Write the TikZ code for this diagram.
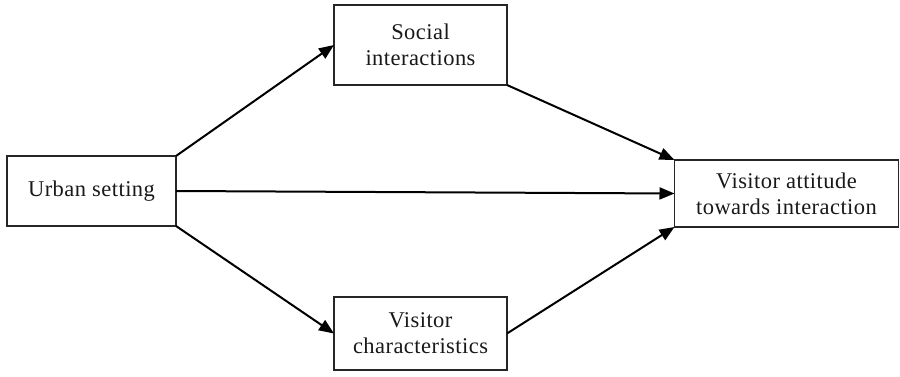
\documentclass[tikz,border=0pt]{standalone}
\usepackage{fontspec}
\setmainfont{Liberation Serif}[LetterSpace=2]
\usetikzlibrary{arrows.meta}
\begin{document}
\begin{tikzpicture}[x=1pt,y=-1pt,
  box/.style={draw=black!85,line width=1.2pt,rectangle,inner sep=0pt,outer sep=0pt,
    align=center,font=\fontsize{22.5}{26}\selectfont,text=black!90},
  conn/.style={line width=2pt,-{Triangle[length=15pt,width=12pt]}}]
\useasboundingbox (0,0) rectangle (900,377);
\node[box,minimum width=169pt,minimum height=70pt] (urban) at (91.5,191) {Urban setting};
\node[box,minimum width=173pt,minimum height=80pt] (social) at (420.5,45) {Social\\interactions};
\node[box,minimum width=224pt,minimum height=67pt] (att) at (786.5,193.5) {Visitor attitude\\towards interaction};
\node[box,minimum width=173pt,minimum height=73pt] (chars) at (420.5,333.5) {Visitor\\characteristics};
\draw[conn] (urban.north east) -- (social.west);
\draw[conn] (urban.east) -- (att.west);
\draw[conn] (urban.south east) -- (chars.west);
\draw[conn] (social.south east) -- (att.north west);
\draw[conn] (chars.east) -- (att.south west);
\end{tikzpicture}
\end{document}
